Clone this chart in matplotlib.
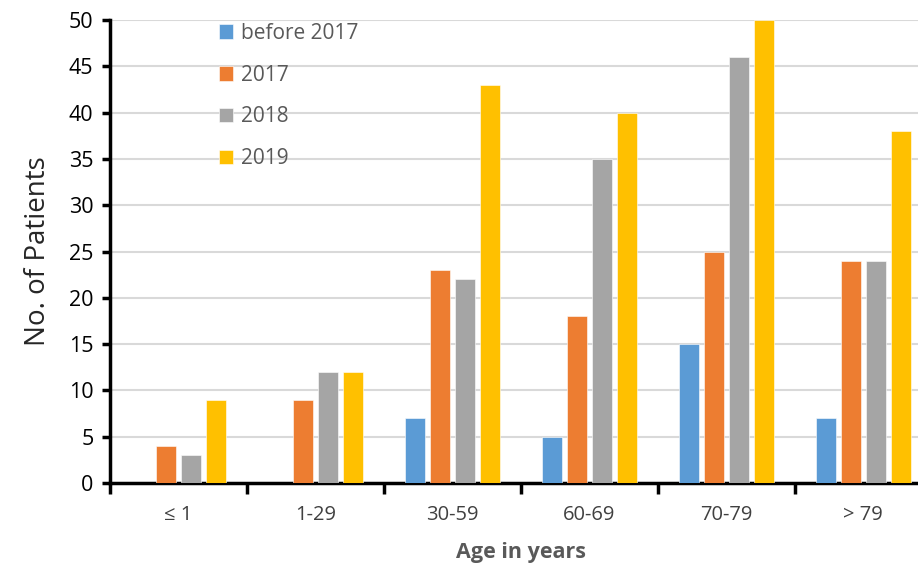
import numpy as np
import matplotlib
matplotlib.use("Agg")
import matplotlib.pyplot as plt

plt.rcParams['font.family'] = ['Open Sans', 'DejaVu Sans']

age_groups = ['≤ 1', '1-29', '30-59', '60-69', '70-79', '> 79']
series_names = ['before 2017', '2017', '2018', '2019']
before_2017 = [0, 0, 7, 5, 15, 7]
y2017 = [4, 9, 23, 18, 25, 24]
y2018 = [3, 12, 22, 35, 46, 24]
y2019 = [9, 12, 43, 40, 50, 38]
colors = ['#5B9BD5', '#ED7D31', '#A5A5A5', '#FFC000']

fig = plt.figure(figsize=(9.18, 5.63), dpi=100)
# the reference is cropped on the right, so the axes run past the figure edge
ax = fig.add_axes([0.12, 0.142, 0.895, 0.8225])

x = np.arange(len(age_groups))
pitch = 0.182
width = 0.146
for i, (vals, name, c) in enumerate(zip([before_2017, y2017, y2018, y2019], series_names, colors)):
    ax.bar(x + (i - 1.5) * pitch, vals, width, color=c, label=name,
           edgecolor='white', linewidth=0.4, zorder=3)

ax.set_xlim(-0.5, len(age_groups) - 0.5)
ax.set_ylim(0, 50)
ax.set_yticks(range(0, 51, 5))
ax.yaxis.grid(True, color='#D9D9D9', linewidth=1.5, zorder=0)

ax.set_xticks(np.arange(-0.5, len(age_groups), 1.0))
ax.set_xticklabels([])
ax.set_xticks(x, minor=True)
ax.set_xticklabels(age_groups, minor=True, fontsize=14.5, color='#404040')
ax.tick_params(axis='x', which='major', length=8, width=2.5, direction='out')
ax.tick_params(axis='x', which='minor', length=0, pad=16)
ax.tick_params(axis='y', length=6, width=2.5, labelsize=15.5, pad=6, colors='black')

for s in ['top', 'right']:
    ax.spines[s].set_visible(False)
for s in ['left', 'bottom']:
    ax.spines[s].set_linewidth(2.5)

ax.set_ylabel('No. of Patients', fontsize=20, color='#262626', labelpad=12)
ax.set_xlabel('Age in years', fontsize=15.5, fontweight='bold', color='#595959', labelpad=12)

leg = ax.legend(loc='upper left', bbox_to_anchor=(0.122, 1.012), frameon=False,
                fontsize=15, handlelength=0.7, handleheight=0.7,
                handletextpad=0.35, labelspacing=1.0, borderaxespad=0)
for t in leg.get_texts():
    t.set_color('#595959')

fig.savefig('out.png', dpi=100)
